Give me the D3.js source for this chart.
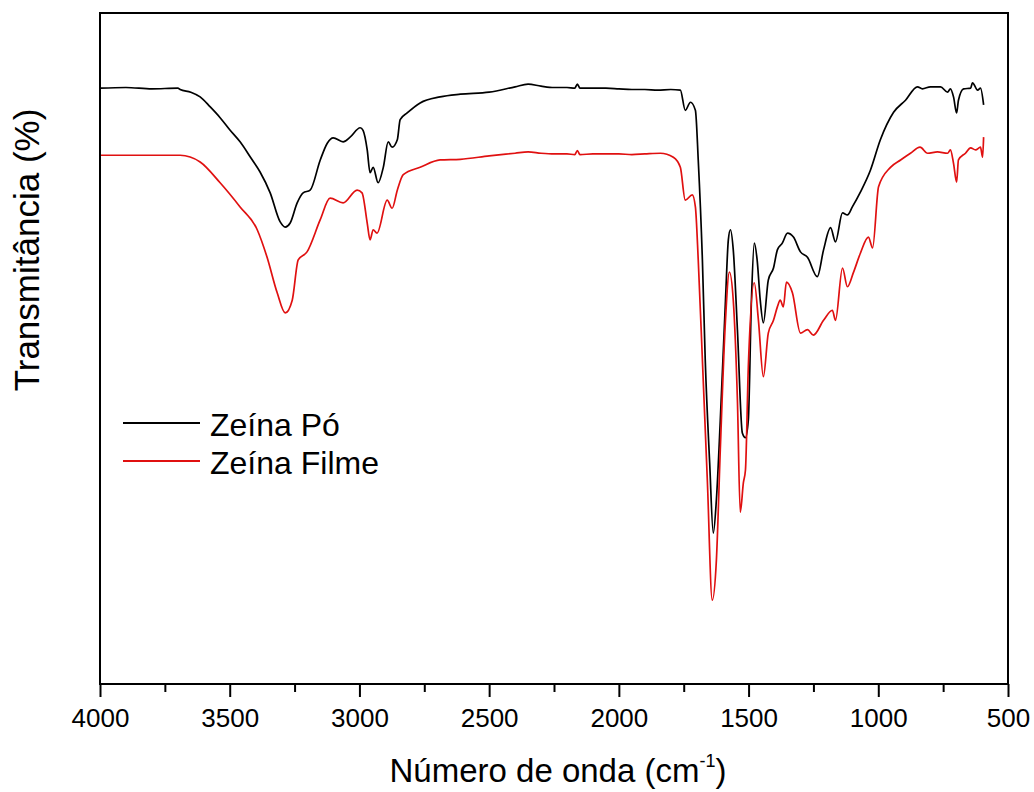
<!DOCTYPE html>
<html>
<head>
<meta charset="utf-8">
<script src="https://cdn.jsdelivr.net/npm/d3@7"></script>
<style>
  body { margin: 0; background: #fff; }
  text { font-family: "Liberation Sans", Arial, sans-serif; fill: #000; }
</style>
</head>
<body>
<div id="chart"></div>
<script>
const width = 1034
const height = 792
const margin = {left: 100, right: 26, top: 13, bottom: 108}

// wavenumber (cm-1), transmittance (arbitrary %)
const poWave = [4000,3900,3800,3700,3691,3650,3614,3575,3537,3500,3460,3420,3383,3344,3306,3286,3267,3240,3217,3190,3151,3124,3101,3063,3036,2997,2986,2970,2959,2947,2928,2908,2889,2874,2854,2843,2816,2766,2689,2611,2500,2400,2350,2300,2250,2200,2170,2160,2150,2100,2050,2000,1950,1900,1850,1800,1763,1744,1724,1705,1694,1678,1667,1650,1636,1624,1609,1589,1578,1570,1559,1543,1524,1512,1501,1489,1478,1467,1455,1443,1424,1404,1389,1370,1350,1327,1300,1273,1235,1211,1184,1165,1138,1119,1100,1069,1030,992,941,895,849,830,799,760,733,722,710,698,691,671,644,637,617,606,594]
const poTrans = [88.8,88.9,88.7,88.8,88.6,88.2,87.5,86.0,84.4,82.6,80.8,78.5,76.3,73.2,68.9,68.1,68.7,71.7,73.2,73.6,78.1,80.6,81.4,80.8,81.5,82.9,82.5,79.6,76.2,77.0,74.7,77.0,80.8,80.0,81.1,84.1,85.1,86.6,87.5,87.9,88.2,89.0,89.4,89.1,88.9,88.9,88.8,89.4,88.8,88.8,88.8,88.7,88.6,88.6,88.5,88.6,88.5,85.5,86.7,85.5,78.1,63.2,48.3,33.0,22.5,27.5,39.3,57.2,66.2,67.7,64.7,52.8,37.4,36.7,39.3,57.2,65.7,63.2,57.2,53.8,60.2,62.0,64.7,65.7,67.2,66.6,64.4,63.6,60.7,64.7,68.0,65.9,70.2,69.9,71.1,73.3,76.6,81.1,85.2,87.0,89.0,88.7,89.0,89.0,88.2,88.7,87.5,85.1,87.0,88.7,88.8,89.6,88.5,88.8,86.3]

const filmeWave = [4000,3900,3800,3691,3614,3537,3460,3394,3356,3317,3286,3259,3236,3202,3151,3113,3063,3009,2990,2970,2959,2947,2932,2893,2874,2854,2831,2766,2689,2611,2500,2400,2350,2300,2250,2200,2170,2160,2150,2100,2050,2000,1950,1900,1840,1790,1763,1744,1717,1705,1694,1678,1659,1640,1624,1609,1589,1574,1559,1543,1532,1520,1512,1501,1478,1462,1443,1424,1404,1389,1378,1366,1354,1331,1300,1273,1250,1211,1177,1165,1138,1119,1096,1069,1038,1022,999,953,914,876,839,810,772,733,722,710,698,691,664,644,625,606,598,594]
const filmeTrans = [78.8,78.8,78.8,78.8,77.8,74.7,71.1,67.7,63.6,58.3,55.3,57.2,63.2,64.4,69.2,72.4,71.7,73.6,73.2,68.7,66.2,67.7,67.2,72.1,70.9,73.6,75.9,77.0,78.1,78.2,78.7,79.1,79.3,79.1,79.0,79.0,78.9,79.5,78.9,79.0,79.0,79.0,78.9,79.0,79.1,78.5,77.0,72.1,72.9,71.1,63.2,48.3,30.4,12.5,18.5,34.9,54.2,61.4,57.2,42.3,25.6,30.0,31.9,47.2,59.8,54.2,45.8,52.3,54.2,56.2,57.2,56.2,59.9,58.3,52.3,52.8,52.0,54.2,55.7,54.2,62.0,59.2,61.3,64.2,66.6,65.0,74.1,77.0,78.1,79.1,80.0,79.1,79.3,79.1,79.6,77.6,74.8,78.1,79.1,79.9,79.6,80.0,78.5,81.5]

const majorTicks = [4000,3500,3000,2500,2000,1500,1000,500]
const minorTicks = [3750,3250,2750,2250,1750,1250,750]

const seriesNames = ["Zeína Pó", "Zeína Filme"]
const seriesColors = ["#000000", "#e01010"]

const svg = d3.select('#chart')
  .append("svg")
  .attr("width", width)
  .attr("height", height)

const xScale = d3.scaleLinear().domain([4000, 500]).range([margin.left, width - margin.right])
const yScale = d3.scaleLinear().domain([0, 100]).range([height - margin.bottom, margin.top])

const line = d3.line()
  .x(d => xScale(d[0]))
  .y(d => yScale(d[1]))
  .curve(d3.curveMonotoneX)

const series = [
  d3.zip(poWave, poTrans),
  d3.zip(filmeWave, filmeTrans)
]

series.forEach((s, i) => {
  // ascending x for the monotone curve
  const pts = s.slice().sort((a, b) => a[0] - b[0])
  svg.append("path")
    .datum(pts)
    .attr("fill", "none")
    .attr("stroke", seriesColors[i])
    .attr("stroke-width", 1.7)
    .attr("stroke-linejoin", "round")
    .attr("d", line)
})

// frame
svg.append("rect")
  .attr("x", margin.left)
  .attr("y", margin.top)
  .attr("width", width - margin.left - margin.right)
  .attr("height", height - margin.top - margin.bottom)
  .attr("fill", "none")
  .attr("stroke", "#000")
  .attr("stroke-width", 2)

const xAxis = svg.append("g")
  .attr("transform", `translate(0,${height - margin.bottom})`)
  .call(d3.axisBottom(xScale).tickValues(majorTicks).tickFormat(d3.format("d"))
    .tickSize(13).tickPadding(12).tickSizeOuter(0))
xAxis.select(".domain").remove()
xAxis.selectAll("line").attr("stroke-width", 2)
xAxis.selectAll("text").style("font-size", "26px").attr("font-family", null)

const xMinor = svg.append("g")
  .attr("transform", `translate(0,${height - margin.bottom})`)
  .call(d3.axisBottom(xScale).tickValues(minorTicks).tickSize(8).tickFormat("").tickSizeOuter(0))
xMinor.select(".domain").remove()
xMinor.selectAll("line").attr("stroke-width", 2)

// axis titles
const xTitle = svg.append("text")
  .attr("x", 558)
  .attr("y", 782)
  .style("text-anchor", "middle")
  .style("font-size", "33px")
xTitle.append("tspan").text("Número de onda (cm")
xTitle.append("tspan").attr("dy", -15).style("font-size", "18px").text("-1")
xTitle.append("tspan").attr("dy", 15).text(")")

svg.append("text")
  .attr("transform", "translate(39,250) rotate(-90)")
  .style("text-anchor", "middle")
  .style("font-size", "35px")
  .text("Transmitância (%)")

// legend
const legend = svg.append("g")
seriesNames.forEach((name, i) => {
  const y = 423 + i * 38
  legend.append("line")
    .attr("x1", 123).attr("x2", 200)
    .attr("y1", y).attr("y2", y)
    .attr("stroke", seriesColors[i])
    .attr("stroke-width", 1.8)
  legend.append("text")
    .attr("x", 210)
    .attr("y", y + 13)
    .style("font-size", "32px")
    .text(name)
})
</script>
</body>
</html>
